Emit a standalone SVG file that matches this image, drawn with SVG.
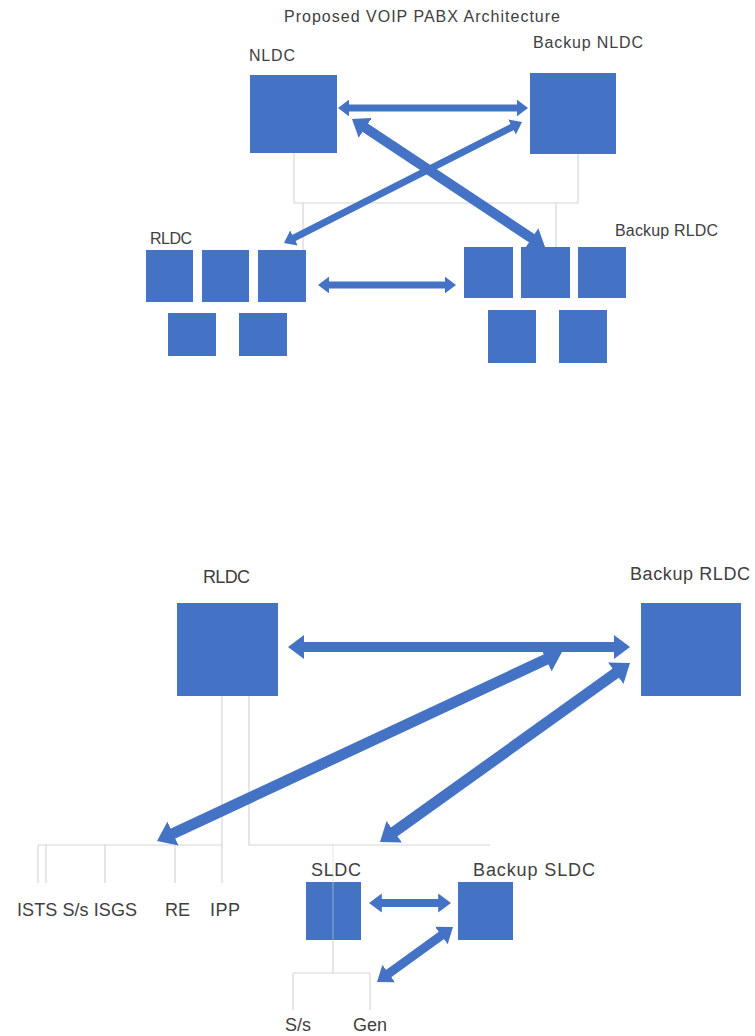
<svg xmlns="http://www.w3.org/2000/svg" width="755" height="1036" viewBox="0 0 755 1036">
<style>
.box{fill:#4472C4}
.lbl{font-family:"Liberation Sans",Arial,sans-serif;fill:#404040}
.thin{stroke:#d6d6d6;stroke-width:1.2;fill:none}
.arr{stroke:#4472C4;fill:none;marker-start:url(#ah);marker-end:url(#ah)}
</style>
<defs>
<marker id="ah" markerUnits="strokeWidth" markerWidth="1.6" markerHeight="2.4" viewBox="0 0 16 24" refX="3" refY="12" orient="auto-start-reverse">
<path d="M0,0 L16,12 L0,24 Z" fill="#4472C4"/>
</marker>
</defs>
<rect width="755" height="1036" fill="#ffffff"/>

<text id="title" class="lbl" x="284" y="22" font-size="16" textLength="276">Proposed VOIP PABX Architecture</text>

<g id="thin-lines">
<path class="thin" d="M294,153 V203 H578 V154 M303,203 V250 M556,203 V247"/>
<path class="thin" d="M222,696 V883 M38,845 H222 M38,845 V883 M46,845 V883 M105,845 V883 M175,845 V883"/>
<path class="thin" d="M249,696 V845 H490"/>
<path class="thin" d="M333,940 V973 M293,973 H370 M293,973 V1010 M370,973 V1010"/>
</g>

<g id="nldc">
<text class="lbl" x="249" y="61" font-size="16" textLength="46">NLDC</text>
<rect class="box" x="250" y="75" width="87" height="78"/>
</g>
<g id="backup-nldc">
<text class="lbl" x="533" y="48" font-size="16" textLength="110">Backup NLDC</text>
<rect class="box" x="530" y="73" width="86" height="81"/>
</g>
<g id="rldc-top">
<text class="lbl" x="150" y="244" font-size="16" textLength="42">RLDC</text>
<rect class="box" x="146" y="250" width="47" height="52"/>
<rect class="box" x="202" y="250" width="47" height="52"/>
<rect class="box" x="258" y="250" width="48" height="52"/>
<rect class="box" x="168" y="313" width="48" height="43"/>
<rect class="box" x="239" y="313" width="48" height="43"/>
</g>
<g id="backup-rldc-top">
<text class="lbl" x="615" y="236" font-size="16" textLength="103">Backup RLDC</text>
<rect class="box" x="464" y="247" width="49" height="51"/>
<rect class="box" x="521" y="247" width="49" height="51"/>
<rect class="box" x="578" y="247" width="48" height="51"/>
<rect class="box" x="488" y="310" width="48" height="53"/>
<rect class="box" x="559" y="310" width="48" height="53"/>
</g>

<g id="rldc">
<text class="lbl" x="203" y="583" font-size="18" textLength="47">RLDC</text>
<rect class="box" x="177" y="603" width="101" height="93"/>
</g>
<g id="backup-rldc">
<text class="lbl" x="630" y="580" font-size="18" textLength="120">Backup RLDC</text>
<rect class="box" x="641" y="603" width="100" height="93"/>
</g>
<g id="leaf-labels">
<text class="lbl" x="17" y="916" font-size="18" textLength="120">ISTS S/s ISGS</text>
<text class="lbl" x="165" y="916" font-size="18" textLength="25">RE</text>
<text class="lbl" x="210" y="916" font-size="18" textLength="30">IPP</text>
</g>
<g id="sldc">
<text class="lbl" x="311" y="876" font-size="18" textLength="50">SLDC</text>
<rect class="box" x="306" y="882" width="55" height="58"/>
</g>
<g id="backup-sldc">
<text class="lbl" x="473" y="876" font-size="18" textLength="122">Backup SLDC</text>
<rect class="box" x="458" y="882" width="55" height="58"/>
</g>
<g id="sldc-leaves">
<text class="lbl" x="298" y="1031" font-size="18" text-anchor="middle">S/s</text>
<text class="lbl" x="370" y="1031" font-size="18" text-anchor="middle">Gen</text>
</g>

<g id="connectors">
<line x1="333" y1="845" x2="333" y2="940" stroke="#d6d6d6" stroke-width="1.2" opacity="0.5"/>
<line class="arr" x1="347" y1="108" x2="519" y2="108" stroke-width="7"/>
<line class="arr" x1="292.1" y1="238.9" x2="513.9" y2="126.1" stroke-width="7"/>
<line class="arr" x1="362.8" y1="126.2" x2="534.2" y2="239.8" stroke-width="10"/>
<line class="arr" x1="327" y1="285" x2="447" y2="285" stroke-width="7"/>
<line class="arr" x1="301" y1="647" x2="617" y2="647" stroke-width="10"/>
<line class="arr" x1="170" y1="835" x2="549" y2="658" stroke-width="11"/>
<line class="arr" x1="391.6" y1="833.7" x2="618.4" y2="671.3" stroke-width="11"/>
<line class="arr" x1="379.4" y1="903" x2="440.6" y2="903" stroke-width="8"/>
<line class="arr" x1="386.5" y1="975.1" x2="443.5" y2="933.9" stroke-width="9"/>
</g>
</svg>
